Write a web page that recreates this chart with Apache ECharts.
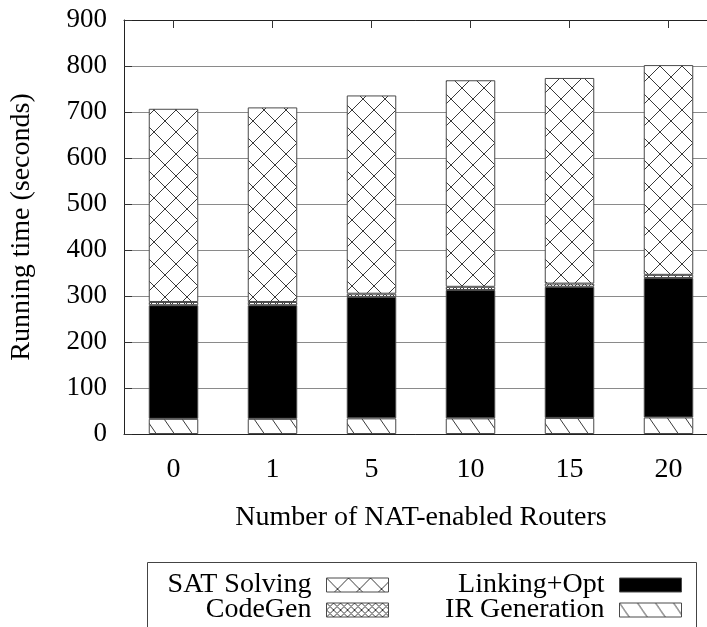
<!DOCTYPE html>
<html>
<head>
<meta charset="utf-8">
<script src="https://cdn.jsdelivr.net/npm/echarts@6/dist/echarts.min.js"></script>
<style>
  html, body { margin: 0; padding: 0; background: #fff; }
  #chart { width: 707px; height: 627px; }
</style>
</head>
<body>
<div id="chart"></div>
<script>
// Router counts on the x axis
const routers = ['0', '1', '5', '10', '15', '20'];

// Running time per phase, in seconds (stacked bottom to top)
const irGeneration = [33, 33, 34, 34, 35, 36];
const linkingOpt   = [247, 247, 264, 279, 285, 303];
const codeGen      = [7, 7, 7, 7, 7, 7];
const satSolving   = [420, 423, 431, 449, 447, 456];

const yTicks = { min: 0, max: 900, step: 100 };

const FONT = '"Liberation Serif", "Times New Roman", serif';

// Build a repeating hatch fill on a small canvas tile
function hatch(w, h, draw) {
  const c = document.createElement('canvas');
  c.width = w; c.height = h;
  const g = c.getContext('2d');
  g.fillStyle = '#fff';
  g.fillRect(0, 0, w, h);
  g.strokeStyle = '#3a3a3a';
  g.lineWidth = 1;
  g.beginPath();
  draw(g, w, h);
  g.stroke();
  return { image: c, repeat: 'repeat' };
}

const crossWide = hatch(22, 22, (g, w, h) => {
  g.moveTo(0, 0); g.lineTo(w, h);
  g.moveTo(w, 0); g.lineTo(0, h);
});
const crossDense = hatch(7, 7, (g, w, h) => {
  g.moveTo(0, 0); g.lineTo(w, h);
  g.moveTo(w, 0); g.lineTo(0, h);
});
const backDiag = hatch(18, 26, (g, w, h) => {
  for (let k = -1; k <= 1; k++) {
    g.moveTo(k * w, 0); g.lineTo(k * w + w, h);
  }
});

const border = { borderColor: '#4a4a4a', borderWidth: 1 };

function barSeries(name, data, color) {
  return {
    name, type: 'bar', stack: 'total', data,
    barWidth: '50%',
    itemStyle: Object.assign({ color, borderRadius: 0 }, border),
    emphasis: { disabled: true }
  };
}

function legendItem(name, right, top) {
  return {
    data: [name], right, top, align: 'right', orient: 'horizontal',
    icon: 'rect',
    itemStyle: { borderRadius: 0, borderColor: '#4a4a4a', borderWidth: 1 },
    padding: 0, itemWidth: 62, itemHeight: 14, selectedMode: false,
    textStyle: { fontFamily: FONT, fontSize: 28, color: '#000', lineHeight: 28, padding: [0, 10, 0, 0] }
  };
}

const chart = echarts.init(document.getElementById('chart'), null, { renderer: 'canvas' });

chart.setOption({
  animation: false,
  backgroundColor: '#fff',
  // the plot frame runs a little past the right edge of the page
  grid: { left: 124, top: 20, width: 594, height: 414, containLabel: false, outerBoundsMode: 'none' },
  xAxis: [
    {
      type: 'category', data: routers, position: 'bottom',
      name: 'Number of NAT-enabled Routers', nameLocation: 'middle', nameGap: 70,
      nameTextStyle: { fontFamily: FONT, fontSize: 28, color: '#000' },
      axisLine: { lineStyle: { color: '#222', width: 1 } },
      axisTick: { show: false },
      axisLabel: { fontFamily: FONT, fontSize: 28, color: '#000', margin: 22, lineHeight: 28 }
    },
    {
      // mirrored frame edge along the top, with short inward ticks at each category
      type: 'category', data: routers, position: 'top', show: true,
      axisLine: { show: true, onZero: false, lineStyle: { color: '#222', width: 1 } },
      axisTick: { show: true, inside: true, alignWithLabel: true, interval: 0, length: 8, lineStyle: { color: '#333', width: 1 } },
      axisLabel: { show: false },
      splitLine: { show: false }
    }
  ],
  yAxis: {
    type: 'value', min: yTicks.min, max: yTicks.max, interval: yTicks.step,
    name: 'Running time (seconds)', nameLocation: 'middle', nameGap: 88, nameRotate: 90,
    nameTextStyle: { fontFamily: FONT, fontSize: 28, color: '#000' },
    axisLine: { show: true, lineStyle: { color: '#222', width: 1 } },
    axisTick: { show: true, inside: true, length: 8, lineStyle: { color: '#333' } },
    axisLabel: { fontFamily: FONT, fontSize: 27, color: '#000', margin: 17 },
    splitLine: { show: true, lineStyle: { color: '#8a8a8a', width: 1 } }
  },
  legend: [
    legendItem('SAT Solving', 318, 571),
    legendItem('CodeGen', 318, 596),
    legendItem('Linking+Opt', 25, 571),
    legendItem('IR Generation', 25, 596)
  ],
  graphic: [{
    type: 'rect', silent: true, z: 10,
    shape: { x: 147.5, y: 562.5, width: 549, height: 80 },
    style: { fill: null, stroke: '#444', lineWidth: 1 }
  }],
  series: [
    barSeries('IR Generation', irGeneration, backDiag),
    barSeries('Linking+Opt', linkingOpt, '#000'),
    barSeries('CodeGen', codeGen, crossDense),
    barSeries('SAT Solving', satSolving, crossWide),
    // empty series so the top axis is laid out alongside the bars
    { type: 'line', xAxisIndex: 1, data: [], silent: true, showSymbol: false }
  ]
});
</script>
</body>
</html>
